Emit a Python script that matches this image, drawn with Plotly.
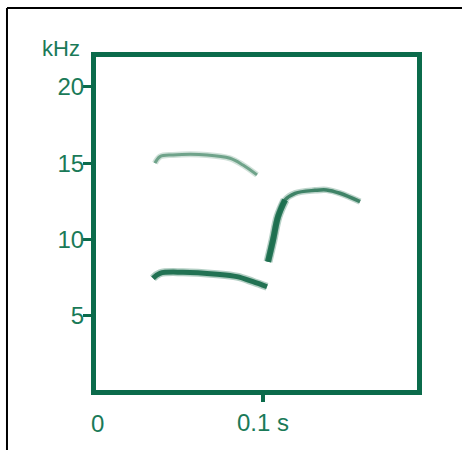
import plotly.graph_objects as go

# ---- data (time in s, frequency in kHz) ----
upper_t = [0.0353, 0.0383, 0.0461, 0.0665, 0.0802, 0.0880, 0.0964]
upper_f = [15.00, 15.43, 15.54, 15.54, 15.32, 14.88, 14.23]

lower_t = [0.0341, 0.0383, 0.0521, 0.0725, 0.0844, 0.0940, 0.1024]
lower_f = [7.46, 7.79, 7.86, 7.73, 7.57, 7.24, 6.91]

third_t = [0.1030, 0.1060, 0.1090, 0.1132, 0.1192, 0.1311, 0.1380, 0.1461, 0.1581]
third_f = [8.55, 9.97, 11.50, 12.59, 13.03, 13.22, 13.25, 13.03, 12.48]

rise_t = [0.1030, 0.1060, 0.1090, 0.1132]
rise_f = [8.55, 9.97, 11.50, 12.59]

y_tickvals = [5, 10, 15, 20]
y_ticktext = ["5", "10", "15", "20"]
x_tickvals = [0.1]
x_ticktext = ["0.1 s"]

GREEN = "#0b6b4b"
TEXT = "#1a7a58"
FONT = "Liberation Sans"
FS = 24

fig = go.Figure()

def stroke(t, f, width, color, opacity):
    fig.add_trace(go.Scatter(x=t, y=f, mode="lines",
                             line=dict(color=color, width=width + 3, shape="spline"),
                             opacity=opacity * 0.35, hoverinfo="skip"))
    fig.add_trace(go.Scatter(x=t, y=f, mode="lines",
                             line=dict(color=color, width=width, shape="spline"),
                             opacity=opacity, hoverinfo="skip"))

stroke(upper_t, upper_f, 3, "#4f8f70", 0.75)
stroke(lower_t, lower_f, 5, "#1b6e4e", 0.95)
stroke(third_t, third_f, 3.5, "#2a7556", 0.85)
stroke(rise_t, rise_f, 6, "#1b6e4e", 0.9)

fig.add_annotation(x=0, y=0, xref="x", yref="paper", text="0", showarrow=False,
                   xanchor="center", yanchor="top", xshift=1, yshift=-18,
                   font=dict(family=FONT, size=FS, color=TEXT))
fig.add_annotation(x=-0.0436, y=1.027, xref="paper", yref="paper", text="kHz",
                   showarrow=False, xanchor="right", yanchor="middle",
                   font=dict(family=FONT, size=FS - 2, color=TEXT))

# outer black frame (top and left)
fig.add_shape(type="line", xref="paper", yref="paper", x0=-0.2773, x1=1.15,
              y0=1.1471, y1=1.1471, line=dict(color="black", width=2))
fig.add_shape(type="line", xref="paper", yref="paper", x0=-0.2773, x1=-0.2773,
              y0=1.1471, y1=-0.19, line=dict(color="black", width=2))

fig.update_layout(
    width=462, height=450,
    margin=dict(l=96, r=45, t=57, b=60),
    paper_bgcolor="white", plot_bgcolor="white",
    showlegend=False,
    font=dict(family=FONT, size=FS, color=TEXT),
    xaxis=dict(range=[0, 0.1922], showgrid=False, zeroline=False,
               showline=True, linecolor=GREEN, linewidth=5, mirror=True,
               tickvals=x_tickvals, ticktext=x_ticktext, ticks="outside",
               ticklen=7, tickwidth=4, tickcolor=GREEN,
               tickfont=dict(family=FONT, size=FS, color=TEXT)),
    yaxis=dict(range=[0.15, 21.95], showgrid=False, zeroline=False,
               showline=True, linecolor=GREEN, linewidth=5, mirror=True,
               tickvals=y_tickvals, ticktext=y_ticktext, ticks="outside",
               ticklen=8, tickwidth=3, tickcolor=GREEN, ticklabelstandoff=-6,
               tickfont=dict(family=FONT, size=FS, color=TEXT)),
)

fig.write_html("out.html", config={"displayModeBar": False},
               post_script="document.body.style.margin='0px';")
